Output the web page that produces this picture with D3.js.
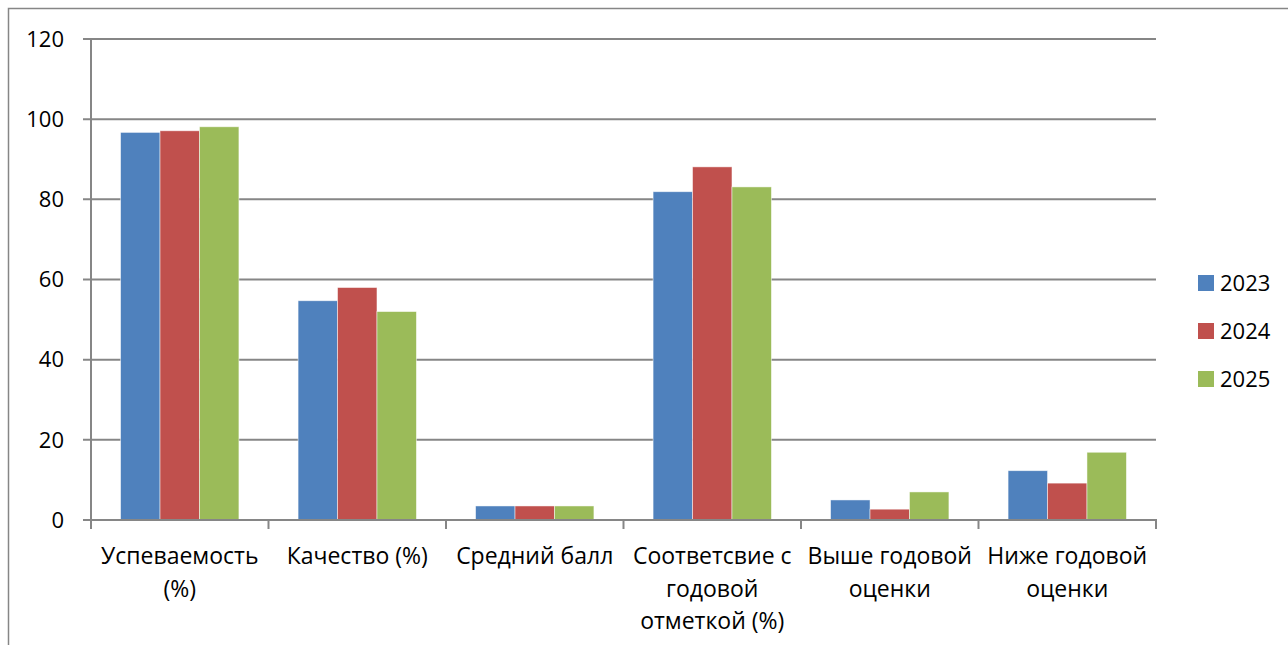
<!DOCTYPE html>
<html>
<head>
<meta charset="utf-8">
<script src="https://cdn.jsdelivr.net/npm/d3@7"></script>
<style>
  body { margin: 0; background: #fff; }
  svg { display: block; font-family: "Open Sans", "Noto Sans", sans-serif; }
</style>
</head>
<body>
<script>
// data
var categories = [
    ["Успеваемость", "(%)"],
    ["Качество (%)"],
    ["Средний балл"],
    ["Соответсвие с", "годовой", "отметкой (%)"],
    ["Выше годовой", "оценки"],
    ["Ниже годовой", "оценки"]];
var years = ["2023", "2024", "2025"];
var values2023 = [96.7, 54.7, 3.5, 81.9, 5.0, 12.3];
var values2024 = [97.1, 58.0, 3.5, 88.1, 2.7, 9.2];
var values2025 = [98.1, 52.0, 3.5, 83.1, 7.0, 16.9];
var yTicks = [0, 20, 40, 60, 80, 100, 120];
var colors = ["#4F81BD", "#C0504D", "#9BBB59"];

var series = [values2023, values2024, values2025];

var width = 1288, height = 645,
    plotLeft = 91, plotRight = 1156,
    plotTop = 39, plotBottom = 520,
    gridColor = "#868686";

var svg = d3.select("body").append("svg")
    .attr("width", width)
    .attr("height", height);

// outer chart frame
svg.append("path")
    .attr("d", "M8.5," + height + " V8.5 H" + width)
    .attr("fill", "none")
    .attr("stroke", gridColor)
    .attr("stroke-width", 1.5);

var x0 = d3.scaleBand()
    .domain(d3.range(categories.length))
    .range([plotLeft, plotRight])
    .paddingInner(0)
    .paddingOuter(0);

// gap width 150% -> 3 bars take 3/4.5 of a band
var barW = x0.bandwidth() / 4.5;
var x1 = d3.scaleBand()
    .domain(d3.range(years.length))
    .range([barW * 0.75, barW * 3.75]);

var y = d3.scaleLinear()
    .domain([0, 120])
    .range([plotBottom, plotTop]);

// gridlines
svg.append("g")
    .selectAll("line")
    .data(yTicks)
    .enter()
    .append("line")
    .attr("x1", plotLeft - 8)
    .attr("x2", plotRight)
    .attr("y1", function(d){ return y(d); })
    .attr("y2", function(d){ return y(d); })
    .attr("stroke", gridColor)
    .attr("stroke-width", 2);

// y tick labels
svg.append("g")
    .selectAll("text")
    .data(yTicks)
    .enter()
    .append("text")
    .attr("x", 64)
    .attr("y", function(d){ return y(d); })
    .attr("dy", "0.35em")
    .attr("text-anchor", "end")
    .attr("font-size", 22)
    .attr("fill", "#000")
    .text(function(d){ return d; });

// bars
var groups = svg.append("g")
    .selectAll("g")
    .data(categories)
    .enter()
    .append("g")
    .attr("transform", function(d, i){ return "translate(" + x0(i) + ",0)"; });

groups.selectAll("rect")
    .data(function(d, i){ return series.map(function(s, k){ return {k: k, v: s[i]}; }); })
    .enter()
    .append("rect")
    .attr("x", function(d){ return x1(d.k); })
    .attr("y", function(d){ return y(d.v); })
    .attr("width", x1.bandwidth())
    .attr("height", function(d){ return y(0) - y(d.v); })
    .attr("fill", function(d){ return colors[d.k]; })
    .attr("stroke", "rgba(255,255,255,0.6)")
    .attr("stroke-width", 0.8);

// y axis line
svg.append("line")
    .attr("x1", plotLeft).attr("x2", plotLeft)
    .attr("y1", plotTop).attr("y2", plotBottom + 1)
    .attr("stroke", gridColor)
    .attr("stroke-width", 2);

// x axis line + category ticks
svg.append("line")
    .attr("x1", plotLeft - 8).attr("x2", plotRight + 1)
    .attr("y1", plotBottom).attr("y2", plotBottom)
    .attr("stroke", gridColor)
    .attr("stroke-width", 2);

svg.append("g")
    .selectAll("line")
    .data(d3.range(categories.length + 1))
    .enter()
    .append("line")
    .attr("x1", function(d){ return plotLeft + d * x0.bandwidth(); })
    .attr("x2", function(d){ return plotLeft + d * x0.bandwidth(); })
    .attr("y1", plotBottom)
    .attr("y2", plotBottom + 9)
    .attr("stroke", gridColor)
    .attr("stroke-width", 2);

// category labels
var catLabels = svg.append("g")
    .selectAll("text")
    .data(categories)
    .enter()
    .append("text")
    .attr("text-anchor", "middle")
    .attr("font-size", 23)
    .attr("fill", "#000")
    .attr("transform", function(d, i){ return "translate(" + (x0(i) + x0.bandwidth() / 2) + ",0)"; });

catLabels.selectAll("tspan")
    .data(function(d){ return d; })
    .enter()
    .append("tspan")
    .attr("x", 0)
    .attr("y", function(d, j){ return 556 + j * 32.5; })
    .attr("dy", "0.35em")
    .text(function(d){ return d; });

// legend
var legend = svg.append("g")
    .selectAll("g")
    .data(years)
    .enter()
    .append("g")
    .attr("transform", function(d, i){ return "translate(1198," + (283 + i * 48) + ")"; });

legend.append("rect")
    .attr("x", 0)
    .attr("y", -8)
    .attr("width", 16)
    .attr("height", 16)
    .attr("fill", function(d, i){ return colors[i]; });

legend.append("text")
    .attr("x", 22)
    .attr("y", 0)
    .attr("dy", "0.35em")
    .attr("font-size", 22)
    .attr("fill", "#000")
    .text(function(d){ return d; });
</script>
</body>
</html>
